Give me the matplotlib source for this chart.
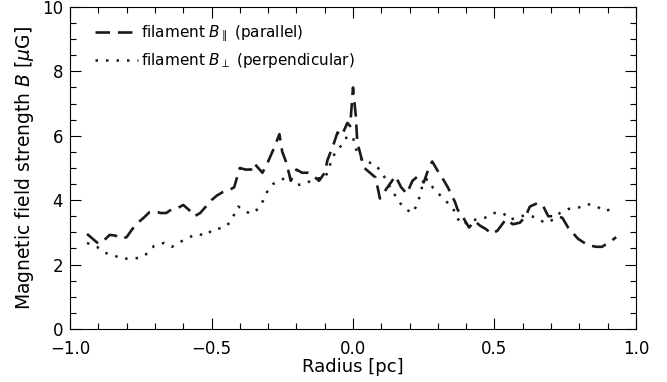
import numpy as np
import matplotlib
matplotlib.use('Agg')
import matplotlib.pyplot as plt
from matplotlib.ticker import MultipleLocator

plt.rcParams['font.family'] = ['DejaVu Sans']
plt.rcParams['mathtext.fontset'] = 'dejavusans'

# parallel component (dashed)
r_par = [-0.94, -0.92, -0.90, -0.88, -0.86, -0.84, -0.82, -0.80, -0.78, -0.76,
         -0.74, -0.72, -0.70, -0.68, -0.66, -0.64, -0.62, -0.60, -0.58, -0.56,
         -0.54, -0.52, -0.50, -0.48, -0.46, -0.44, -0.42, -0.40, -0.38, -0.36,
         -0.35, -0.32, -0.30, -0.28, -0.26, -0.25, -0.235, -0.22, -0.20, -0.18,
         -0.16, -0.14, -0.12, -0.10, -0.09, -0.07, -0.055, -0.04, -0.02, -0.01,
         0.0, 0.01, 0.015, 0.03, 0.04, 0.06, 0.08, 0.095, 0.11, 0.13,
         0.15, 0.17, 0.19, 0.21, 0.23, 0.25, 0.27, 0.28, 0.30, 0.315,
         0.335, 0.36, 0.37, 0.39, 0.41, 0.43, 0.45, 0.47, 0.49, 0.51,
         0.54, 0.565, 0.59, 0.61, 0.625, 0.65, 0.67, 0.69, 0.72, 0.74,
         0.76, 0.795, 0.83, 0.86, 0.88, 0.915, 0.93]
b_par = [2.95, 2.8, 2.65, 2.75, 2.92, 2.9, 2.8, 2.85, 3.1, 3.3,
         3.45, 3.62, 3.65, 3.6, 3.6, 3.72, 3.75, 3.85, 3.7, 3.5,
         3.6, 3.8, 4.0, 4.15, 4.25, 4.3, 4.4, 5.0, 4.95, 4.95,
         5.15, 4.85, 5.2, 5.6, 6.05, 5.5, 5.15, 4.6, 4.95, 4.85,
         4.85, 4.75, 4.6, 4.85, 5.25, 5.7, 6.1, 6.0, 6.4, 6.3,
         7.5, 6.6, 5.8, 5.3, 5.0, 4.85, 4.7, 4.05, 4.25, 4.5,
         4.75, 4.4, 4.2, 4.6, 4.75, 4.55, 5.05, 5.2, 4.9, 4.7,
         4.4, 3.95, 3.7, 3.45, 3.15, 3.35, 3.2, 3.1, 2.95, 3.05,
         3.4, 3.25, 3.3, 3.5, 3.8, 3.9, 3.85, 3.5, 3.5, 3.45,
         3.15, 2.8, 2.6, 2.55, 2.55, 2.75, 2.85]

# perpendicular component (dotted)
r_perp = [-0.94, -0.905, -0.876, -0.848, -0.816, -0.78, -0.753, -0.724, -0.703, -0.668,
          -0.64, -0.611, -0.583, -0.551, -0.519, -0.495, -0.46, -0.435, -0.42, -0.406,
          -0.389, -0.364, -0.336, -0.318, -0.304, -0.283, -0.254, -0.23, -0.201, -0.17,
          -0.15, -0.127, -0.099, -0.085, -0.074, -0.06, -0.035, -0.02, 0.0, 0.01,
          0.035, 0.071, 0.095, 0.113, 0.131, 0.148, 0.166, 0.19, 0.21, 0.226,
          0.237, 0.244, 0.254, 0.265, 0.283, 0.307, 0.332, 0.353, 0.367, 0.389,
          0.413, 0.438, 0.466, 0.495, 0.53, 0.555, 0.583, 0.615, 0.65, 0.678,
          0.707, 0.731, 0.763, 0.795, 0.827, 0.859, 0.887, 0.919]
b_perp = [2.67, 2.55, 2.36, 2.3, 2.17, 2.2, 2.2, 2.36, 2.58, 2.67,
          2.55, 2.7, 2.83, 2.95, 2.9, 3.1, 3.13, 3.3, 3.55, 3.8,
          3.73, 3.57, 3.72, 3.98, 4.25, 4.5, 4.62, 4.75, 4.47, 4.5,
          4.6, 4.68, 4.68, 5.0, 5.28, 5.53, 5.75, 6.0, 5.95, 5.6,
          5.19, 5.15, 4.94, 4.69, 4.41, 4.16, 3.91, 3.7, 3.6, 3.85,
          4.16, 4.41, 4.63, 4.65, 4.38, 4.16, 3.94, 3.76, 3.45, 3.23,
          3.39, 3.39, 3.45, 3.6, 3.6, 3.39, 3.48, 3.54, 3.45, 3.29,
          3.39, 3.6, 3.73, 3.76, 3.88, 3.82, 3.66, 3.73]

fig = plt.figure(figsize=(6.67, 3.82), dpi=100)
ax = fig.add_axes([0.105, 0.139, 0.8485, 0.8427])

ax.plot(r_par, b_par, color='#1a1a1a', lw=1.9, linestyle=(0, (5.5, 3)),
        label=r'filament $B_{\parallel}$ (parallel)')
ax.plot(r_perp, b_perp, color='#1a1a1a', lw=1.8, linestyle=(0, (1, 3.2)),
        label=r'filament $B_{\perp}$ (perpendicular)')

ax.set_xlim(-1.0, 1.0)
ax.set_ylim(0, 10)
ax.xaxis.set_major_locator(MultipleLocator(0.5))
ax.xaxis.set_minor_locator(MultipleLocator(0.1))
ax.yaxis.set_major_locator(MultipleLocator(2))
ax.yaxis.set_minor_locator(MultipleLocator(0.5))
ax.xaxis.set_major_formatter(plt.FuncFormatter(lambda v, p: ('%.1f' % v).replace('-', '\u2212')))
ax.tick_params(which='both', direction='in', top=True, right=True, labelsize=12)
ax.tick_params(which='major', length=8, width=0.8)
ax.tick_params(which='minor', length=4, width=0.8)
ax.tick_params(axis='x', pad=8)
ax.tick_params(axis='y', pad=5)

ax.set_xlabel('Radius [pc]', fontsize=13, labelpad=0)
ax.set_ylabel(r'Magnetic field strength $B$ [$\mu$G]', fontsize=13.5, labelpad=4)

ax.legend(loc='upper left', bbox_to_anchor=(0.034, 0.967), frameon=False,
          fontsize=11, handlelength=2.8, handletextpad=0.2, borderaxespad=0,
          labelspacing=0.45)

fig.savefig('out.png', dpi=100)
